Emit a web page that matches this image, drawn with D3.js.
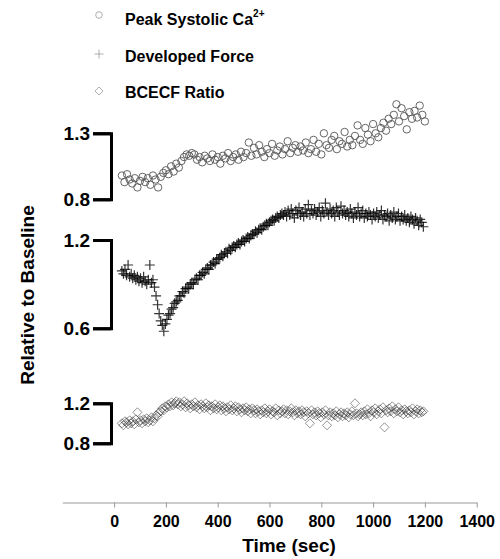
<!DOCTYPE html>
<html>
<head>
<meta charset="utf-8">
<script src="https://cdn.jsdelivr.net/npm/d3@7"></script>
<style>
  body { margin: 0; background: #fff; }
  svg { font-family: "Liberation Sans", Arial, sans-serif; font-weight: bold; }
</style>
</head>
<body>
<div id="chart"></div>
<script>
// sampling grids (sec)
var caTimes = d3.range(30, 1201, 10);
var bandTimes = d3.range(30, 1195, 6);

// Peak systolic Ca2+, relative to baseline
var caValues = [
  0.98, 0.93, 0.99, 0.95, 0.92, 0.96, 0.89, 0.94, 0.97, 0.93, 0.96, 0.91, 0.98, 0.95, 0.89, 0.97, 1.00,
  1.02, 0.99, 1.05, 1.01, 1.07, 1.04, 1.09, 1.12, 1.14, 1.13, 1.15,
  1.14, 1.10, 1.12, 1.08, 1.13, 1.11, 1.09, 1.14, 1.10, 1.12, 1.07, 1.13, 1.11, 1.15, 1.09, 1.12, 1.14, 1.10, 1.16, 1.12,
  1.15, 1.23, 1.13, 1.19, 1.14, 1.21, 1.16, 1.12, 1.18, 1.15, 1.22, 1.13, 1.17, 1.20, 1.14, 1.18, 1.24, 1.15, 1.19, 1.21,
  1.16, 1.20, 1.17, 1.23, 1.15, 1.18, 1.25, 1.16, 1.22, 1.14, 1.30, 1.21, 1.19, 1.25, 1.28, 1.18, 1.24, 1.22, 1.31, 1.20,
  1.25, 1.21, 1.28, 1.36, 1.25, 1.22, 1.34, 1.29, 1.24, 1.37, 1.30, 1.27, 1.34, 1.38, 1.32, 1.41, 1.37, 1.44, 1.52, 1.39,
  1.49, 1.43, 1.33, 1.46, 1.41, 1.47, 1.42, 1.51, 1.44, 1.39
];

// developed force, relative to baseline
var forceValues = [
  0.99, 0.97, 1.00, 0.96, 1.03, 0.95, 0.97, 0.94, 0.96, 0.93, 0.95, 0.92, 0.94, 0.91, 0.95, 0.92, 0.90, 0.93, 1.03, 0.91, 0.93,
  0.88, 0.82, 0.76, 0.70, 0.65, 0.62,
  0.58, 0.63,
  0.66, 0.69, 0.70, 0.73, 0.74, 0.77, 0.78, 0.79, 0.82, 0.82,
  0.85, 0.84, 0.87, 0.88, 0.87, 0.90, 0.91, 0.90, 0.93, 0.94,
  0.93, 0.96, 0.96, 0.98, 0.97, 1.00, 1.01, 1.00, 1.03, 1.03,
  1.05, 1.04, 1.07, 1.07, 1.08, 1.10, 1.09, 1.11, 1.12, 1.11,
  1.14, 1.13, 1.15, 1.16, 1.15, 1.17, 1.18, 1.17, 1.19, 1.20,
  1.19, 1.21, 1.22, 1.21, 1.23, 1.24,
  1.24, 1.26, 1.25, 1.27, 1.28, 1.27, 1.29, 1.30, 1.31, 1.30, 1.32, 1.33, 1.34, 1.33, 1.35, 1.36, 1.35, 1.37, 1.38, 1.37,
  1.39, 1.36, 1.40, 1.37, 1.41, 1.38, 1.35, 1.40, 1.38, 1.42, 1.37, 1.39, 1.36, 1.41, 1.38, 1.44, 1.37, 1.40, 1.38,
  1.41, 1.37, 1.39, 1.42, 1.36, 1.40, 1.38, 1.45, 1.39, 1.37, 1.41, 1.38, 1.40, 1.36, 1.42, 1.39, 1.37, 1.43, 1.38,
  1.40, 1.37, 1.39, 1.36, 1.41, 1.38, 1.35, 1.39, 1.37, 1.42, 1.36, 1.38, 1.40, 1.35, 1.38, 1.36, 1.39, 1.37, 1.34,
  1.38, 1.36, 1.39, 1.35, 1.37, 1.40, 1.34, 1.37, 1.36, 1.38, 1.33, 1.37, 1.35, 1.39, 1.34, 1.36, 1.38, 1.33, 1.36,
  1.34, 1.37, 1.33, 1.35, 1.32, 1.36, 1.34, 1.31, 1.35, 1.33, 1.30, 1.34, 1.32, 1.29
];

// BCECF ratio, relative to baseline
var bcecfValues = [
  1.00, 0.98, 1.02, 1.01, 0.99, 1.03, 1.00, 1.02, 0.99, 1.04, 1.11, 1.01, 1.03, 1.00, 1.04, 1.02, 1.05, 1.01, 1.03, 1.06, 1.02,
  1.05, 1.08, 1.07, 1.11, 1.12, 1.15, 1.13, 1.17, 1.16, 1.19, 1.17, 1.21, 1.18, 1.20, 1.22, 1.19,
  1.21, 1.17, 1.19, 1.22, 1.16, 1.20, 1.18, 1.15, 1.19, 1.17,
  1.21, 1.16, 1.18, 1.14, 1.19, 1.17, 1.15, 1.20, 1.16, 1.18,
  1.13, 1.17, 1.15, 1.19, 1.14, 1.16, 1.18, 1.13, 1.17, 1.15,
  1.12, 1.16, 1.14, 1.18, 1.13, 1.15, 1.17, 1.12, 1.16, 1.14,
  1.11, 1.15, 1.13, 1.16, 1.12, 1.14, 1.10, 1.15,
  1.13, 1.10, 1.14, 1.12, 1.09, 1.13, 1.11, 1.15, 1.10, 1.12,
  1.14, 1.09, 1.12, 1.11, 1.15, 1.08, 1.13, 1.10, 1.12, 1.14,
  1.10, 1.13, 1.09, 1.12, 1.15, 1.11, 1.08, 1.13, 1.10, 1.12,
  1.09, 1.13, 1.11, 1.07, 1.12, 1.10, 1.00, 1.13, 1.09, 1.11,
  1.08, 1.12, 1.10, 1.06, 1.11, 1.09, 1.13, 0.98, 1.08, 1.11,
  1.07, 1.10, 1.08, 1.12, 1.06, 1.09, 1.11, 1.07, 1.10, 1.08,
  1.11, 1.06, 1.09, 1.12, 1.08, 1.20, 1.10, 1.07, 1.09, 1.11,
  1.08, 1.12, 1.09, 1.14, 1.10, 1.07, 1.13, 1.11, 1.15, 1.09,
  1.12, 1.14, 1.10, 1.16, 0.96, 1.13, 1.11, 1.15, 1.12, 1.17,
  1.10, 1.14, 1.12, 1.16, 1.11, 1.13, 1.09, 1.14, 1.12, 1.10,
  1.13, 1.11, 1.15, 1.09, 1.12, 1.14, 1.10, 1.13, 1.11, 1.12
];

var xTicks = [0, 200, 400, 600, 800, 1000, 1200, 1400];
var legendLabels = ['Peak Systolic Ca', 'Developed Force', 'BCECF Ratio'];

var w = 500;
var h = 559;

var svg = d3.select('#chart')
  .append('svg')
  .attr('width', w)
  .attr('height', h);

var x = d3.scaleLinear()
  .domain([-200, 1400])
  .range([62.3, 476.7]);

var yCa = d3.scaleLinear().domain([0.8, 1.3]).range([199.3, 133.3]);
var yForce = d3.scaleLinear().domain([0.6, 1.2]).range([328.3, 240]);
var yBcecf = d3.scaleLinear().domain([0.8, 1.2]).range([443.3, 403.3]);

var plusPath = 'M-5,0H5M0,-5V5';
var diamondPath = 'M0,-4.5L4.5,0L0,4.5L-4.5,0Z';

// x axis
var xAxis = d3.axisBottom(x)
  .tickValues(xTicks)
  .tickSize(5)
  .tickSizeOuter(0)
  .tickPadding(8)
  .tickFormat(d3.format('d'));

var gx = svg.append('g')
  .attr('transform', 'translate(0,502.5)')
  .call(xAxis);
gx.select('.domain').attr('stroke', '#999');
gx.selectAll('.tick line').attr('stroke', '#999');
gx.selectAll('.tick text')
  .attr('fill', '#000')
  .attr('font-size', 16)
  .attr('font-weight', 'bold')
  .attr('font-family', '"Liberation Sans", Arial, sans-serif');

svg.append('text')
  .attr('x', 289)
  .attr('y', 552)
  .attr('text-anchor', 'middle')
  .attr('font-size', 19)
  .text('Time (sec)');

svg.append('text')
  .attr('transform', 'translate(34,295) rotate(-90)')
  .attr('text-anchor', 'middle')
  .attr('font-size', 19)
  .text('Relative to Baseline');

// the three bracket axes
function bracket(scale) {
  var g = svg.append('g')
    .attr('transform', 'translate(111,0)')
    .call(d3.axisLeft(scale)
      .tickValues(scale.domain())
      .tickSize(18)
      .tickPadding(3)
      .tickFormat(d3.format('.1f')));
  g.selectAll('path, line')
    .attr('stroke', '#000')
    .attr('stroke-width', 3)
    .attr('fill', 'none');
  g.selectAll('.tick text')
    .attr('fill', '#000')
    .attr('font-size', 19)
    .attr('font-weight', 'bold')
    .attr('font-family', '"Liberation Sans", Arial, sans-serif');
}
bracket(yCa);
bracket(yForce);
bracket(yBcecf);

// data
svg.append('g').selectAll('path')
  .data(bcecfValues)
  .enter()
  .append('path')
  .attr('d', diamondPath)
  .attr('transform', (d, i) => 'translate(' + x(bandTimes[i]) + ',' + yBcecf(d) + ')')
  .attr('fill', 'none')
  .attr('stroke', '#222')
  .attr('stroke-opacity', 0.55)
  .attr('stroke-width', 0.9);

svg.append('g').selectAll('path')
  .data(forceValues)
  .enter()
  .append('path')
  .attr('d', plusPath)
  .attr('transform', (d, i) => 'translate(' + x(bandTimes[i]) + ',' + yForce(d) + ')')
  .attr('fill', 'none')
  .attr('stroke', '#000')
  .attr('stroke-opacity', 0.8)
  .attr('stroke-width', 1.2);

svg.append('g').selectAll('circle')
  .data(caValues)
  .enter()
  .append('circle')
  .attr('r', 3.7)
  .attr('cx', (d, i) => x(caTimes[i]))
  .attr('cy', d => yCa(d))
  .attr('fill', 'none')
  .attr('stroke', '#555')
  .attr('stroke-width', 0.9);

// legend
var legendY = [20, 57, 93];
var legend = svg.append('g');
legend.append('circle')
  .attr('cx', 99).attr('cy', legendY[0] - 5).attr('r', 3.3)
  .attr('fill', 'none').attr('stroke', '#999').attr('stroke-width', 0.8);
legend.append('path')
  .attr('d', 'M-4.5,0H4.5M0,-4.5V4.5')
  .attr('transform', 'translate(99,' + (legendY[1] - 3) + ')')
  .attr('stroke', '#999').attr('stroke-width', 0.8);
legend.append('path')
  .attr('d', 'M0,-4L4,0L0,4L-4,0Z')
  .attr('transform', 'translate(99,' + (legendY[2] - 2) + ')')
  .attr('fill', 'none').attr('stroke', '#999').attr('stroke-width', 0.8);

var lt = legend.selectAll('text')
  .data(legendLabels)
  .enter()
  .append('text')
  .attr('x', 125)
  .attr('y', (d, i) => legendY[i] + 5)
  .attr('font-size', 16)
  .text(d => d);
lt.filter((d, i) => i === 0)
  .append('tspan')
  .attr('dy', -8)
  .attr('font-size', 10)
  .text('2+');
</script>
</body>
</html>
